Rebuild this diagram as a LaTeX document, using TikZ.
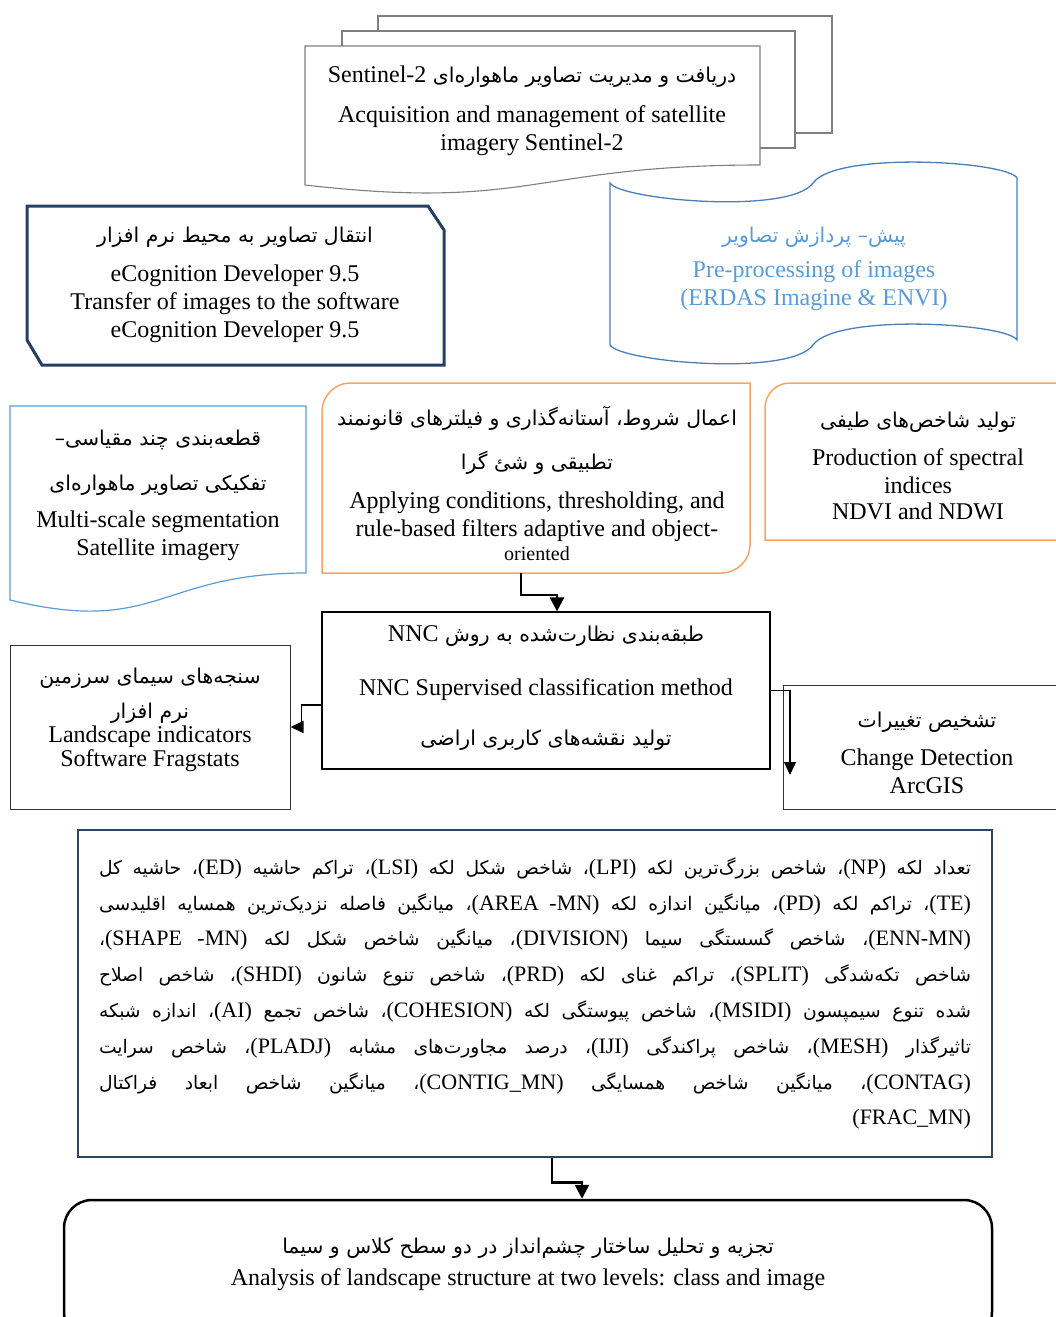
\documentclass[tikz,border=0pt]{standalone}
\usepackage{fontspec}
\usepackage{tikz}
\setmainfont{Liberation Serif}
\newfontfamily\farsi[Script=Arabic,Scale=0.85]{DejaVu Sans}
\TeXXeTstate=1
\usetikzlibrary{arrows.meta, positioning, calc}
\definecolor{sheetgray}{HTML}{7F7F7F}
\definecolor{tapeline}{HTML}{4A7EBB}
\definecolor{tapetext}{HTML}{5B9BD5}
\definecolor{snipnavy}{HTML}{243F60}
\definecolor{docblue}{HTML}{5B9BD5}
\definecolor{ruleorange}{HTML}{F4A66A}
\definecolor{indexnavy}{HTML}{2E4560}
\newcommand{\fatxt}[1]{{\farsi\beginR #1\endR}}
\newcommand{\entxt}[1]{\beginL{\rmfamily #1}\endL}
\newcommand{\indexline}[1]{\hbox to 872pt{\farsi\beginR #1\endR}}

\begin{document}
\begin{tikzpicture}[
  x=1pt, y=-1pt,
  txt/.style={align=center, inner sep=0pt, font=\fontsize{24}{28}\selectfont},
  sheet/.style={draw=sheetgray, fill=white, line width=1.1pt},
  tape/.style={draw=tapeline, line width=1.3pt},
  snipbox/.style={draw=snipnavy, line width=3pt},
  docbox/.style={draw=docblue, line width=1.2pt},
  rulebox/.style={draw=ruleorange, line width=1.5pt},
  frame/.style={draw, line width=1.2pt, inner sep=0pt},
  indexbox/.style={draw=indexnavy, line width=2.8pt, inner sep=0pt, minimum width=914pt, minimum height=327pt, font=\fontsize{22}{28}\selectfont},
  endbox/.style={draw, line width=2.5pt, rounded corners=28pt, inner sep=0pt},
  flow/.style={-{Triangle[length=13pt,width=12pt]}, line width=1.3pt},
  bold flow/.style={-{Triangle[length=14pt,width=14pt]}, line width=2.6pt}
]
\useasboundingbox (0,0) rectangle (1056,1317);

% acquisition
\draw[sheet] (378,16) rectangle (832,133);
\draw[sheet] (342,31) rectangle (795,148);
\draw[sheet] (305,46) -- (760,46) -- (760,165) .. controls (532,165) and (532,211) .. (305,185) -- cycle;
\node[txt] (sentinel) at (532,111) {\fatxt{دریافت و مدیریت تصاویر ماهواره^^^^200cای \entxt{Sentinel-2}}\\[12pt]
  Acquisition and management of satellite\\ imagery Sentinel-2};

% pre-processing
\draw[tape] (610,183) .. controls (620,200) and (790,215) .. (813,183)
  .. controls (836,151) and (1007,161) .. (1017,178) -- (1017,340)
  .. controls (1007,323) and (836,313) .. (813,345)
  .. controls (790,377) and (620,362) .. (610,345) -- cycle;
\node[txt, text=tapetext] (preproc) at (814,268.5) {\fatxt{پیش\kern0pt– پردازش تصاویر}\\[7pt]
  Pre-processing of images\\ (ERDAS Imagine \& ENVI)};

% transfer
\draw[snipbox] (27,206) -- (428,206) -- (444,230) -- (444,365) -- (42,365) -- (27,340) -- cycle;
\node[txt] (transfer) at (235,285) {\fatxt{انتقال تصاویر به محیط نرم افزار}\\[11pt]
  eCognition Developer 9.5\\ Transfer of images to the software\\ eCognition Developer 9.5};

% segmentation
\draw[docbox] (10,406) -- (306,406) -- (306,573) .. controls (158,573) and (158,636) .. (10,600) -- cycle;
\node[txt] (segment) at (158,495) {\fatxt{قطعه^^^^200cبندی چند مقیاسی\kern0pt–}\\[17pt]
  \fatxt{تفکیکی تصاویر ماهواره^^^^200cای}\\[9pt]
  Multi-scale segmentation\\ Satellite imagery};

% rule-based filters
\draw[rulebox] (322,573) -- (322,411) .. controls (322,396) and (335,383) .. (350,383) -- (750,383)
  -- (750,545) .. controls (750,560) and (737,573) .. (722,573) -- cycle;
\coordinate (filtersout) at (521,573);
\node[txt] (filters) at (537,483.5) {\fatxt{اعمال شروط، آستانه^^^^200cگذاری و فیلترهای قانونمند}\\[16pt]
  \fatxt{تطبیقی و شئ گرا}\\[11pt]
  Applying conditions, thresholding, and\\ rule-based filters adaptive and object-\\[-4pt]
  {\fontsize{20}{22}\selectfont oriented}};

% spectral indices
\draw[rulebox] (765,540) -- (765,408) .. controls (765,394) and (776,383) .. (790,383) -- (1080,383) -- (1080,540) -- cycle;
\node[txt] (spectral) at (918,466) {\fatxt{تولید شاخص^^^^200cهای طیفی}\\[10pt]
  Production of spectral\\ indices\\[-2pt] NDVI and NDWI};

% classification
\node[frame, minimum width=448pt, minimum height=157pt] (nnc) at (546,690.5) {};
\node[txt] (nnctext) at (546,688) {\fatxt{طبقه^^^^200cبندی نظارت^^^^200cشده به روش \entxt{NNC}}\\[26pt]
  NNC Supervised classification method\\[22pt]
  \fatxt{تولید نقشه^^^^200cهای کاربری اراضی}};

\node[frame, draw=black!80, line width=1pt, minimum width=280pt, minimum height=164pt] (landscape) at (150,727) {};
\node[txt] (landtext) at (150,720) {\fatxt{سنجه^^^^200cهای سیمای سرزمین}\\[7pt]
  \fatxt{نرم افزار}\\[-4pt] Landscape indicators\\[-4pt] Software Fragstats};

\node[frame, draw=black!80, line width=1pt, minimum width=300pt, minimum height=124pt, anchor=north west] (change) at (783,685) {};
\node[txt] (changetext) at (927,753) {\fatxt{تشخیص تغییرات}\\[10pt] Change Detection\\ ArcGIS};
\coordinate (changein) at (790,775);

% landscape metrics
\node[indexbox] (indices) at (535,993.5) {\vbox{\baselineskip=35.8pt\lineskiplimit=0pt
  \indexline{تعداد لکه \entxt{(NP)}، شاخص بزرگ^^^^200cترین لکه \entxt{(LPI)}، شاخص شکل لکه \entxt{(LSI)}، تراکم حاشیه \entxt{(ED)}، حاشیه کل}
  \indexline{\entxt{(TE)}، تراکم لکه \entxt{(PD)}، میانگین اندازه لکه \entxt{(AREA -MN)}، میانگین فاصله نزدیک^^^^200cترین همسایه اقلیدسی}
  \indexline{\entxt{(ENN-MN)}، شاخص گسستگی سیما \entxt{(DIVISION)}، میانگین شاخص شکل لکه \entxt{(SHAPE -MN)}،}
  \indexline{شاخص تکه^^^^200cشدگی \entxt{(SPLIT)}، تراکم غنای لکه \entxt{(PRD)}، شاخص تنوع شانون \entxt{(SHDI)}، شاخص اصلاح}
  \indexline{شده تنوع سیمپسون \entxt{(MSIDI)}، شاخص پیوستگی لکه \entxt{(COHESION)}، شاخص تجمع \entxt{(AI)}، اندازه شبکه}
  \indexline{تاثیرگذار \entxt{(MESH)}، شاخص پراکندگی \entxt{(IJI)}، درصد مجاورت^^^^200cهای مشابه \entxt{(PLADJ)}، شاخص سرایت}
  \indexline{\entxt{(CONTAG)}، میانگین شاخص همسایگی \entxt{(CONTIG\_MN)}، میانگین شاخص ابعاد فراکتال}
  \hbox to 872pt{\hfill(FRAC\_MN)}}};

\node[endbox, minimum width=928pt, minimum height=140pt] (analysis) at (528,1270) {};
\node[txt] (analysistext) at (528,1264) {\fatxt{تجزیه و تحلیل ساختار چشم^^^^200cانداز در دو سطح کلاس و سیما}\\[4pt]
  Analysis of landscape structure at two levels: class and image};

\draw[bold flow] (filtersout) -- ++(0,22) -| ($(nnc.north)+(11,0)$);
\draw[flow] ($(nnc.west)+(0,14.5)$) -- ++(-20,0) |- (landscape.east);
\draw[flow] (nnc.east) -| (changein);
\draw[bold flow] ($(indices.south)+(17,0)$) -- ++(0,24) -| ($(analysis.north)+(54,0)$);
\end{tikzpicture}
\end{document}
